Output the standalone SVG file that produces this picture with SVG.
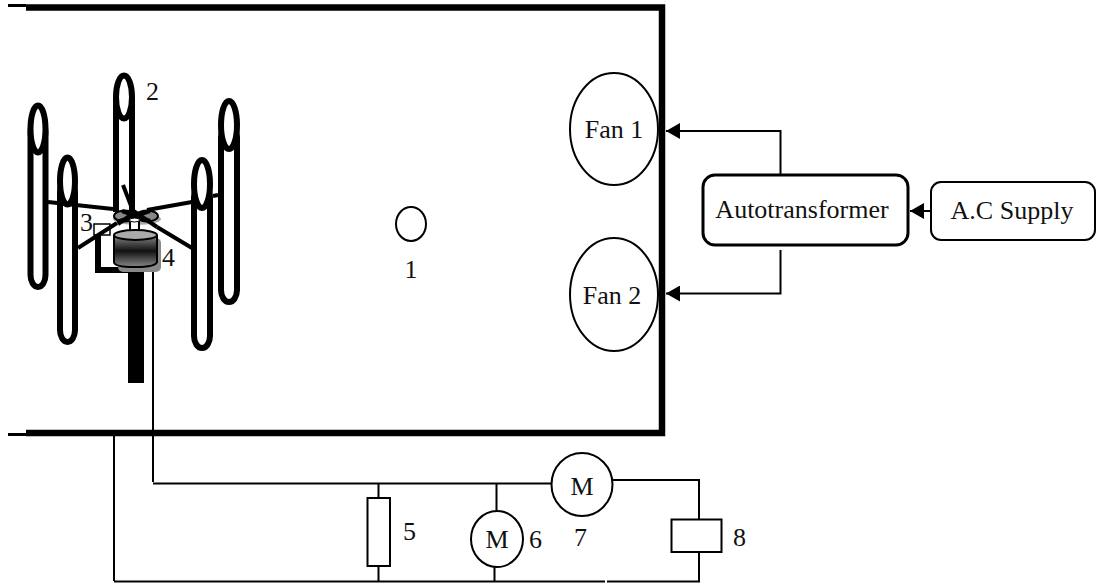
<svg xmlns="http://www.w3.org/2000/svg" width="1096" height="585" viewBox="0 0 1096 585">
<style>
text{font-family:"Liberation Serif","Times New Roman",serif;font-size:26px;fill:#111}
.mid{text-anchor:middle}
.w{fill:none;stroke:#000;stroke-width:2}
.s{fill:#fff;stroke:#000;stroke-width:2}
.bar{fill:#fff;stroke:#000;stroke-width:6}
.head{fill:#fff;stroke:#000;stroke-width:6}
.arm{fill:none;stroke:#000;stroke-width:4}
</style>
<defs>
<linearGradient id="cyl" x1="0" y1="0" x2="0" y2="1">
<stop offset="0" stop-color="#888"/><stop offset="0.5" stop-color="#111"/><stop offset="1" stop-color="#888"/>
</linearGradient>
<marker id="arrow" markerUnits="userSpaceOnUse" markerWidth="14" markerHeight="16" refX="14" refY="8" orient="auto">
<path d="M0 0L14 8L0 16Z" fill="#000"/>
</marker>
</defs>

<g id="chamber">
<path d="M26 7.500H662V433H26" fill="none" stroke="#000" stroke-width="6.500"/>
<path d="M8 5.500H26M8 434.500H26" fill="none" stroke="#000" stroke-width="3"/>
</g>

<g id="node-2-turbine">
<g id="tower">
<rect x="128" y="268" width="16" height="115" fill="#000"/>
<path d="M98 235V270H130" fill="none" stroke="#000" stroke-width="6"/>
<rect id="box-3" x="94" y="224" width="16" height="11" fill="#fff" stroke="#000" stroke-width="1.500"/>
</g>
<g id="blade-a"><rect x="30.500" y="120" width="15" height="167" rx="7.500" ry="12" class="bar"/><ellipse cx="38" cy="129" rx="7.500" ry="23.500" class="head"/></g>
<g id="blade-b"><rect x="60" y="180" width="15" height="162" rx="7.500" ry="12" class="bar"/><ellipse cx="67.500" cy="181" rx="7.500" ry="23.500" class="head"/></g>
<g id="blade-c"><path d="M116 98V212M132 98V212" fill="none" stroke="#000" stroke-width="6"/><ellipse cx="124" cy="97" rx="8" ry="21.500" class="head"/></g>
<g id="blade-d"><rect x="221" y="125" width="16" height="177" rx="8" ry="12" class="bar"/><ellipse cx="229" cy="125" rx="8" ry="24" class="head"/></g>
<g id="blade-e"><rect x="194" y="185" width="16" height="163" rx="8" ry="12" class="bar"/><ellipse cx="202" cy="184" rx="8" ry="24" class="head"/></g>
<path d="M48 202L113 209M78 248L117 223M123 185L133 211M147 210L192 202M213 196L218 195M157 227L192 248" class="arm"/>
<g id="hub">
<ellipse cx="137" cy="219" rx="24" ry="6" fill="#aaa"/>
<ellipse cx="125" cy="216" rx="11" ry="5.500" fill="#888" stroke="#000" stroke-width="2"/>
<ellipse cx="147" cy="216" rx="11" ry="5.500" fill="#888" stroke="#000" stroke-width="2"/>
<path d="M118 224L135 212L157 227M122 211L150 221M150 211L117 222" class="arm" stroke-width="3"/>
<rect x="130" y="220" width="9" height="12" fill="#fff" stroke="#000" stroke-width="2"/>
<ellipse cx="134.500" cy="220" rx="5" ry="2" fill="#fff" stroke="#000" stroke-width="1"/>
</g>
<g id="generator-4">
<rect x="118" y="238" width="43" height="34" rx="5" fill="#888"/>
<path d="M114 235V262Q114 267 135 267T157 262V235" fill="url(#cyl)" stroke="#000" stroke-width="2"/>
<ellipse cx="135.500" cy="235" rx="21.500" ry="5" fill="#aaa" stroke="#000" stroke-width="2"/>
</g>
</g>

<g id="connectors">
<path d="M153 272V482M153 483.500H552M114 436V581M114 581.500H605M607 581.500H699V552M699 519V480H613M378.500 483.500V498M378.500 566V581.500M496.500 483.500V511M494.500 566V581.500" class="w"/>
<path d="M780.500 174V131H666" class="w" marker-end="url(#arrow)"/>
<path d="M780.500 250V293.500H666" class="w" marker-end="url(#arrow)"/>
<path d="M931 211H910" class="w" marker-end="url(#arrow)"/>
</g>

<g id="node-1"><ellipse cx="411" cy="224" rx="15" ry="17" class="s"/><text x="411" y="278" class="mid">1</text></g>
<g id="label-2"><text x="146" y="100">2</text></g>
<g id="label-3"><text x="80" y="231">3</text></g>
<g id="label-4"><text x="162" y="266">4</text></g>

<g id="fan-1"><ellipse cx="614" cy="129" rx="44" ry="56" class="s"/><text x="614" y="138" class="mid">Fan 1</text></g>
<g id="fan-2"><ellipse cx="614" cy="294.500" rx="44" ry="56.500" class="s"/><text x="612" y="304" class="mid">Fan 2</text></g>
<g id="autotransformer"><rect x="703" y="175" width="205" height="70" rx="12" fill="#fff" stroke="#000" stroke-width="3"/><text x="802" y="218" class="mid">Autotransformer</text></g>
<g id="ac-supply"><rect x="931" y="182" width="164" height="58" rx="10" class="s"/><text x="1012" y="219" class="mid">A.C Supply</text></g>

<g id="node-5"><rect x="367.500" y="498" width="22.500" height="68" class="s"/><text x="403" y="540">5</text></g>
<g id="node-6"><ellipse cx="497" cy="539" rx="26" ry="28" class="s"/><text x="497" y="548" class="mid">M</text><text x="529" y="548">6</text></g>
<g id="node-7"><ellipse cx="582" cy="484.500" rx="30.500" ry="31.500" class="s"/><text x="582" y="495" class="mid">M</text><text x="574" y="546">7</text></g>
<g id="node-8"><rect x="671.500" y="519.500" width="50" height="32.500" class="s"/><text x="733" y="546">8</text></g>
</svg>
